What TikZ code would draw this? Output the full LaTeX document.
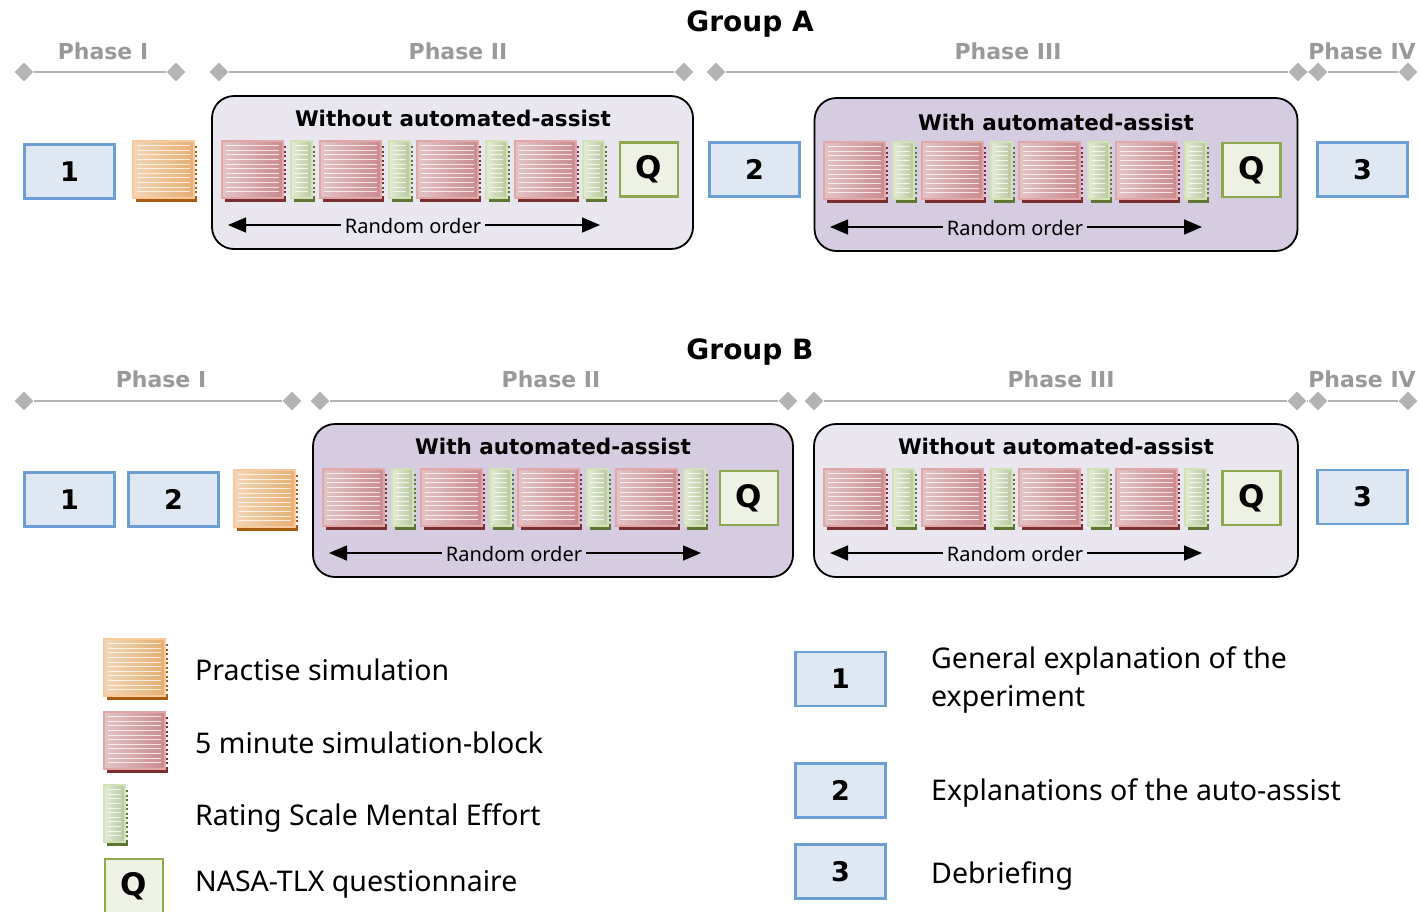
\documentclass[tikz,border=0pt]{standalone}
\usepackage{fontspec}
\setmainfont{Noto Sans}
\newfontfamily\hdfont{DejaVu Sans}
\usetikzlibrary{arrows.meta,shapes.geometric}
\definecolor{orgdark}{HTML}{A85A0E}
\definecolor{orgedge}{HTML}{F9C99C}
\definecolor{orglite}{HTML}{F2D6B8}
\definecolor{orgfill}{HTML}{E6AE72}
\definecolor{reddark}{HTML}{7A2E2E}
\definecolor{rededge}{HTML}{E3A6A6}
\definecolor{redlite}{HTML}{E2C4C6}
\definecolor{redfill}{HTML}{C98A8E}
\definecolor{grndark}{HTML}{5E7632}
\definecolor{grnedge}{HTML}{D2E2B4}
\definecolor{grnlite}{HTML}{E4EBD6}
\definecolor{grnfill}{HTML}{B8C79E}
\definecolor{bluefill}{HTML}{DFE7F2}
\definecolor{blueedge}{HTML}{6B9FD3}
\definecolor{qfill}{HTML}{EEF2E4}
\definecolor{qedge}{HTML}{8EA84E}
\definecolor{contlight}{HTML}{E9E6F0}
\definecolor{contdark}{HTML}{D6CCE1}
\definecolor{phasegray}{HTML}{B3B3B3}
\definecolor{phasetext}{HTML}{999999}
\newcommand{\simblk}[4]{%
  \fill[#4dark] (#1+3,#2+57) rectangle (#1+#3+2,#2+61);
  \draw[#4dark, line width=2pt, dash pattern=on 2pt off 2.5pt] (#1+#3+1,#2+5) -- (#1+#3+1,#2+57);
  \draw[#4edge, line width=2.5pt, left color=#4lite, right color=#4fill] (#1,#2) rectangle (#1+#3-1,#2+57);
  \foreach \k in {1,...,11} \draw[white, opacity=0.75, line width=0.9pt] (#1+4,#2+4.6*\k) -- (#1+#3-5,#2+4.6*\k);
}
\tikzset{
  bluebox/.style={draw=blueedge, fill=bluefill, line width=2.2pt, minimum width=90, minimum height=54, inner sep=0, font=\hdfont\bfseries\fontsize{27}{30}\selectfont},
  qbox/.style={draw=qedge, fill=qfill, line width=2.6pt, minimum width=58, minimum height=54, inner sep=0, font=\hdfont\bfseries\fontsize{31}{34}\selectfont},
  cont/.style={draw=black, line width=1.8pt, rounded corners=22pt, inner sep=0},
  conttitle/.style={font=\hdfont\bfseries\fontsize{21.5}{25}\selectfont, inner sep=0},
  randtxt/.style={font=\fontsize{20}{22}\selectfont, inner sep=4pt},
  randarrow/.style={line width=1.6pt, -{Triangle[length=18pt,width=15pt]}},
  dia/.style={diamond, fill=phasegray, minimum width=19, minimum height=19, inner sep=0},
  phaseline/.style={draw=phasegray, line width=2.2pt},
  phaselabel/.style={text=phasetext, font=\hdfont\bfseries\fontsize{22}{24}\selectfont, inner sep=0},
  grouptitle/.style={font=\hdfont\bfseries\fontsize{28}{32}\selectfont, inner sep=0},
  legtext/.style={font=\fontsize{28.5}{38}\selectfont, anchor=west, inner sep=0, align=left},
}
\begin{document}
\begin{tikzpicture}[x=1pt,y=-1pt]
\useasboundingbox (0,0) rectangle (1420,911);

% ---------------- Group A ----------------
\node[grouptitle] (gA) at (750,24) {Group A};
\node[dia] (a1l) at (24,72) {};   \node[dia] (a1r) at (176,72) {};
\node[dia] (a2l) at (219,72) {};  \node[dia] (a2r) at (684,72) {};
\node[dia] (a3l) at (716,72) {};  \node[dia] (a3r) at (1298,72) {};
\node[dia] (a4l) at (1318,72) {}; \node[dia] (a4r) at (1408,72) {};
\draw[phaseline] (a1l) -- (a1r);
\draw[phaseline] (a2l) -- (a2r);
\draw[phaseline] (a3l) -- (a3r);
\draw[phaseline] (a4l) -- (a4r);
\draw[phaseline] (a3r) -- (a4l);
\node[phaselabel] (pa1) at (103,51) {Phase I};
\node[phaselabel] (pa2) at (458,51) {Phase II};
\node[phaselabel] (pa3) at (1008,51) {Phase III};
\node[phaselabel] (pa4) at (1362,51) {Phase IV};

\node[bluebox] (A1) at (69.5,171.5) {1};
\simblk{133}{141}{62}{org}
\node[cont, fill=contlight, minimum width=481, minimum height=153] (cA1) at (452.5,172.5) {};
\node[conttitle] (tA1) at (453,118) {Without automated-assist};
\simblk{222}{141}{62}{red}\simblk{291}{141}{22}{grn}
\simblk{320}{141}{62}{red}\simblk{389}{141}{22}{grn}
\simblk{417}{141}{62}{red}\simblk{486}{141}{22}{grn}
\simblk{515}{141}{62}{red}\simblk{583}{141}{22}{grn}
\node[qbox] (QA1) at (649,169.5) {Q};
\node[randtxt] (rA1) at (413,226) {Random order};
\coordinate (rA1l) at (228,225); \coordinate (rA1r) at (600,225);
\draw[randarrow] (rA1.west |- rA1l) -- (rA1l);
\draw[randarrow] (rA1.east |- rA1r) -- (rA1r);

\node[bluebox] (A2) at (754.5,169.5) {2};
\node[cont, fill=contdark, minimum width=483, minimum height=153] (cA2) at (1056,174.5) {};
\node[conttitle] (tA2) at (1056,122) {With automated-assist};
\simblk{824}{142}{62}{red}\simblk{893}{142}{22}{grn}
\simblk{922}{142}{62}{red}\simblk{991}{142}{22}{grn}
\simblk{1019}{142}{62}{red}\simblk{1088}{142}{22}{grn}
\simblk{1116}{142}{62}{red}\simblk{1185}{142}{22}{grn}
\node[qbox] (QA2) at (1251.5,170) {Q};
\node[randtxt] (rA2) at (1015,228) {Random order};
\coordinate (rA2l) at (830,227); \coordinate (rA2r) at (1202,227);
\draw[randarrow] (rA2.west |- rA2l) -- (rA2l);
\draw[randarrow] (rA2.east |- rA2r) -- (rA2r);

\node[bluebox] (A3) at (1362.5,169.5) {3};

% ---------------- Group B ----------------
\node[grouptitle] (gB) at (750,352) {Group B};
\node[dia] (b1l) at (24,401) {};   \node[dia] (b1r) at (292,401) {};
\node[dia] (b2l) at (320,401) {};  \node[dia] (b2r) at (788,401) {};
\node[dia] (b3l) at (814,401) {};  \node[dia] (b3r) at (1297,401) {};
\node[dia] (b4l) at (1318,401) {}; \node[dia] (b4r) at (1408,401) {};
\draw[phaseline] (b1l) -- (b1r);
\draw[phaseline] (b2l) -- (b2r);
\draw[phaseline] (b3l) -- (b3r);
\draw[phaseline] (b4l) -- (b4r);
\draw[phaseline] (b3r) -- (b4l);
\node[phaselabel] (pb1) at (161,379) {Phase I};
\node[phaselabel] (pb2) at (551,379) {Phase II};
\node[phaselabel] (pb3) at (1061,379) {Phase III};
\node[phaselabel] (pb4) at (1362,379) {Phase IV};

\node[bluebox] (B1) at (69.5,499.5) {1};
\node[bluebox] (B2) at (173.5,499.5) {2};
\simblk{234}{470}{62}{org}
\node[cont, fill=contdark, minimum width=480, minimum height=153] (cB1) at (553,500.5) {};
\node[conttitle] (tB1) at (553,446) {With automated-assist};
\simblk{323}{469}{62}{red}\simblk{392}{469}{22}{grn}
\simblk{421}{469}{62}{red}\simblk{490}{469}{22}{grn}
\simblk{518}{469}{62}{red}\simblk{587}{469}{22}{grn}
\simblk{616}{469}{62}{red}\simblk{684}{469}{22}{grn}
\node[qbox] (QB1) at (749,498) {Q};
\node[randtxt] (rB1) at (514,554) {Random order};
\coordinate (rB1l) at (329,553); \coordinate (rB1r) at (701,553);
\draw[randarrow] (rB1.west |- rB1l) -- (rB1l);
\draw[randarrow] (rB1.east |- rB1r) -- (rB1r);

\node[cont, fill=contlight, minimum width=484, minimum height=153] (cB2) at (1056,500.5) {};
\node[conttitle] (tB2) at (1056,446) {Without automated-assist};
\simblk{824}{469}{62}{red}\simblk{893}{469}{22}{grn}
\simblk{922}{469}{62}{red}\simblk{991}{469}{22}{grn}
\simblk{1019}{469}{62}{red}\simblk{1088}{469}{22}{grn}
\simblk{1116}{469}{62}{red}\simblk{1185}{469}{22}{grn}
\node[qbox] (QB2) at (1251.5,498) {Q};
\node[randtxt] (rB2) at (1015,554) {Random order};
\coordinate (rB2l) at (830,553); \coordinate (rB2r) at (1202,553);
\draw[randarrow] (rB2.west |- rB2l) -- (rB2l);
\draw[randarrow] (rB2.east |- rB2r) -- (rB2r);

\node[bluebox] (B3) at (1362.5,497) {3};

% ---------------- Legend ----------------
\simblk{104}{639}{62}{org}
\node[legtext] (l1) at (195,670) {Practise simulation};
\simblk{104}{712}{62}{red}
\node[legtext] (l2) at (195,743) {5 minute simulation-block};
\simblk{104}{785}{22}{grn}
\node[legtext] (l3) at (195,818) {Rating Scale Mental Effort};
\node[qbox] (LQ) at (134,886) {Q};
\node[legtext] (l4) at (195,884) {NASA-TLX questionnaire};

\node[bluebox] (L1) at (840.5,679) {1};
\node[legtext] (l5) at (931,680) {General explanation of the\\experiment};
\node[bluebox] (L2) at (840.5,790.5) {2};
\node[legtext] (l6) at (931,793) {Explanations of the auto-assist};
\node[bluebox] (L3) at (840.5,871.5) {3};
\node[legtext] (l7) at (931,876) {Debriefing};
\end{tikzpicture}
\end{document}
